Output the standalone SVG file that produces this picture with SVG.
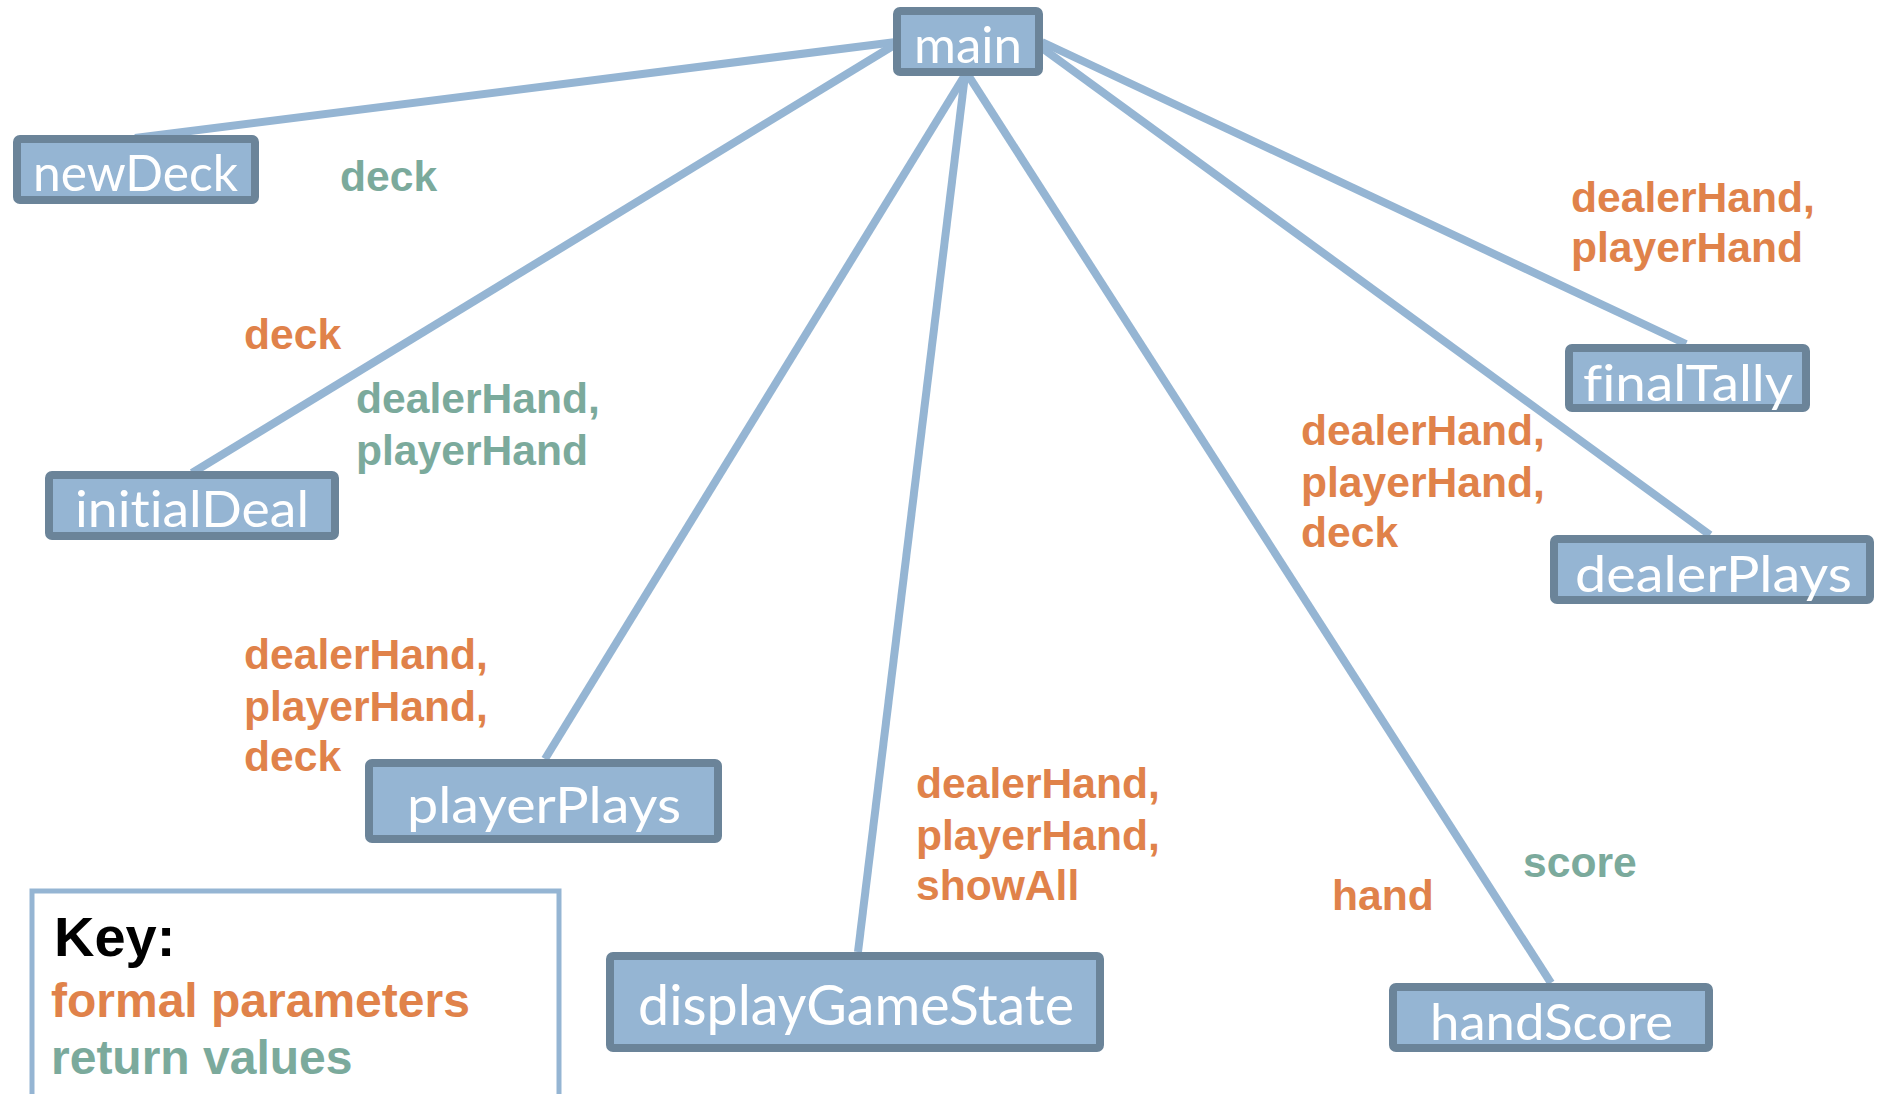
<svg xmlns="http://www.w3.org/2000/svg" width="1878" height="1094" viewBox="0 0 1878 1094">
<style>
.edge{stroke:#95B5D3;stroke-width:8;fill:none;stroke-linecap:butt}
.box{fill:#95B5D3;stroke:#6B8499;stroke-width:8}
.nt{fill:#ffffff;font-family:Lato,"Open Sans",sans-serif;font-size:50px;font-variant-ligatures:none}
.lbl{font-family:"Liberation Sans",Arial,sans-serif;font-weight:bold;font-size:42.6px}
.p{fill:#E0824A}
.r{fill:#7BAA9C}
</style>
<rect width="1878" height="1094" fill="#ffffff"/>
<g id="connectors">
<line class="edge" x1="896" y1="42" x2="135" y2="138"/>
<line class="edge" x1="896" y1="44" x2="192" y2="473"/>
<line class="edge" x1="965" y1="75" x2="545" y2="759"/>
<line class="edge" x1="965" y1="75" x2="858" y2="952"/>
<line class="edge" x1="968" y1="75" x2="1551" y2="983"/>
<line class="edge" x1="1042" y1="48" x2="1710" y2="535"/>
<line class="edge" x1="1042" y1="42" x2="1686" y2="344"/>
</g>
<g id="labels">
<text class="lbl r" x="340" y="191">deck</text>
<text class="lbl p" x="244" y="349">deck</text>
<text class="lbl r" x="356" y="413">dealerHand,</text>
<text class="lbl r" x="356" y="465">playerHand</text>
<text class="lbl p" x="244" y="669">dealerHand,</text>
<text class="lbl p" x="244" y="721">playerHand,</text>
<text class="lbl p" x="244" y="771">deck</text>
<text class="lbl p" x="916" y="798">dealerHand,</text>
<text class="lbl p" x="916" y="850">playerHand,</text>
<text class="lbl p" x="916" y="900">showAll</text>
<text class="lbl p" x="1332" y="910">hand</text>
<text class="lbl r" x="1523" y="877">score</text>
<text class="lbl p" x="1301" y="445">dealerHand,</text>
<text class="lbl p" x="1301" y="497">playerHand,</text>
<text class="lbl p" x="1301" y="547">deck</text>
<text class="lbl p" x="1571" y="212">dealerHand,</text>
<text class="lbl p" x="1571" y="262">playerHand</text>
</g>
<g id="main">
<rect class="box" x="897" y="11" width="142" height="61" rx="3"/>
<text class="nt" x="914" y="63" textLength="108" lengthAdjust="spacingAndGlyphs">main</text>
</g>
<g id="newDeck">
<rect class="box" x="17" y="139" width="238" height="61" rx="3"/>
<text class="nt" x="33" y="191" textLength="205" lengthAdjust="spacingAndGlyphs">newDeck</text>
</g>
<g id="initialDeal">
<rect class="box" x="49" y="475" width="286" height="61" rx="3"/>
<text class="nt" x="75" y="527" textLength="234" lengthAdjust="spacingAndGlyphs">initialDeal</text>
</g>
<g id="playerPlays">
<rect class="box" x="369" y="763" width="349" height="76" rx="3"/>
<text class="nt" x="407" y="823" textLength="274" lengthAdjust="spacingAndGlyphs">playerPlays</text>
</g>
<g id="displayGameState">
<rect class="box" x="610" y="956" width="490" height="92" rx="3"/>
<text class="nt" x="638" y="1025" font-size="56" style="font-size:56px" textLength="436" lengthAdjust="spacingAndGlyphs">displayGameState</text>
</g>
<g id="handScore">
<rect class="box" x="1393" y="987" width="316" height="61" rx="3"/>
<text class="nt" x="1430" y="1040" textLength="243" lengthAdjust="spacingAndGlyphs">handScore</text>
</g>
<g id="dealerPlays">
<rect class="box" x="1554" y="539" width="316" height="61" rx="3"/>
<text class="nt" x="1575" y="592" textLength="277" lengthAdjust="spacingAndGlyphs">dealerPlays</text>
</g>
<g id="finalTally">
<rect class="box" x="1569" y="348" width="237" height="60" rx="3"/>
<text class="nt" x="1583" y="401" textLength="210" lengthAdjust="spacingAndGlyphs">finalTally</text>
</g>
<g id="key">
<rect x="32" y="891" width="527" height="220" fill="#ffffff" stroke="#95B5D3" stroke-width="5"/>
<text x="54" y="956" font-family="'Liberation Sans',Arial,sans-serif" font-weight="bold" font-size="56" fill="#000000">Key:</text>
<text class="lbl p" x="51" y="1017" style="font-size:48px">formal parameters</text>
<text class="lbl r" x="51" y="1074" style="font-size:48px">return values</text>
</g>
</svg>
